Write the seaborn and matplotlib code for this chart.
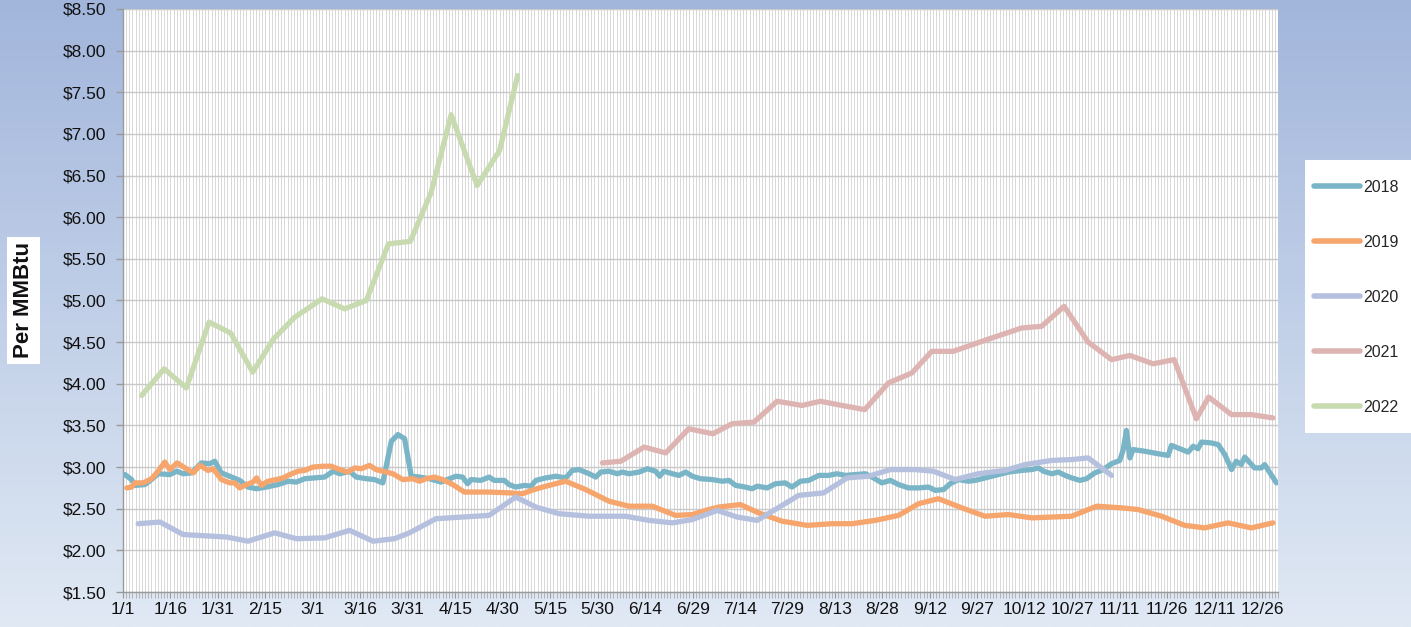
import numpy as np
import pandas as pd
import matplotlib
matplotlib.use("Agg")
import matplotlib.pyplot as plt
from matplotlib.lines import Line2D
from matplotlib.patches import Rectangle
from matplotlib.ticker import MultipleLocator, FixedLocator, FuncFormatter
import seaborn as sns

# ---------------- data (day of year index, $/MMBtu) ----------------
years = ["2018", "2019", "2020", "2021", "2022"]
colors = ["#79B5C7", "#F6A56C", "#B4C0DE", "#DDB4B2", "#C8DAB0"]

days_2018 = [0.6, 2.7, 3.8, 6.9, 9.0, 11.1, 14.8, 17.0, 19.0, 21.7, 24.8, 27.4, 29.0, 31.1, 34.3,
             36.9, 39.5, 42.2, 45.3, 49.0, 52.2, 54.8, 57.4, 60.6, 63.7, 66.4, 68.5, 71.6, 73.7,
             76.9, 79.5, 82.1, 84.8, 86.9, 89.0, 91.1, 93.7, 96.8, 100.5, 105.2, 107.3, 108.9,
             110.0, 113.1, 115.7, 117.3, 120.5, 122.0, 124.1, 126.8, 128.9, 130.5, 133.6, 136.8,
             139.9, 142.0, 144.1, 147.3, 149.4, 151.0, 153.6, 156.2, 157.8, 159.9, 163.1, 165.7,
             168.3, 169.6, 170.9, 173.6, 175.7, 177.8, 179.9, 182.5, 186.2, 189.4, 191.5, 193.6,
             196.7, 198.8, 200.4, 203.6, 206.2, 209.3, 211.4, 214.1, 216.7, 219.9, 223.0, 225.6,
             228.3, 231.4, 234.6, 237.2, 239.8, 242.5, 245.1, 248.2, 251.4, 254.6, 256.7, 259.3,
             261.4, 264.0, 267.2, 269.3, 272.4, 275.6, 279.8, 284.0, 287.2, 289.3, 290.9, 293.5,
             295.6, 297.7, 299.8, 302.4, 304.5, 307.1, 309.8, 312.4, 315.0, 316.1, 317.1, 318.2,
             319.2, 322.9, 327.1, 330.3, 331.3, 334.0, 336.6, 338.2, 339.7, 340.8, 343.9, 346.1,
             348.2, 350.3, 351.8, 353.4, 354.5, 357.6, 359.7, 360.8, 364.5]
price_2018 = [2.91, 2.85, 2.78, 2.79, 2.85, 2.92, 2.91, 2.95, 2.92, 2.93, 3.05, 3.04, 3.07, 2.93, 2.88,
              2.84, 2.76, 2.74, 2.76, 2.79, 2.83, 2.82, 2.86, 2.87, 2.88, 2.95, 2.92, 2.95, 2.88,
              2.86, 2.85, 2.81, 3.31, 3.39, 3.34, 2.89, 2.88, 2.86, 2.82, 2.89, 2.88, 2.80,
              2.85, 2.84, 2.88, 2.84, 2.84, 2.79, 2.76, 2.78, 2.77, 2.84, 2.87, 2.89,
              2.87, 2.96, 2.97, 2.92, 2.88, 2.94, 2.95, 2.92, 2.94, 2.92, 2.94, 2.98,
              2.95, 2.89, 2.95, 2.92, 2.90, 2.94, 2.89, 2.86, 2.85, 2.83, 2.84, 2.78,
              2.76, 2.74, 2.77, 2.75, 2.80, 2.81, 2.76, 2.83, 2.84, 2.90, 2.90, 2.92,
              2.90, 2.91, 2.92, 2.87, 2.81, 2.84, 2.79, 2.75, 2.75, 2.76, 2.72, 2.73,
              2.80, 2.85, 2.83, 2.84, 2.87, 2.90, 2.94, 2.96, 2.97, 2.99, 2.95, 2.92,
              2.94, 2.90, 2.87, 2.84, 2.86, 2.93, 2.97, 3.04, 3.08, 3.21, 3.44, 3.11,
              3.21, 3.19, 3.16, 3.14, 3.26, 3.22, 3.18, 3.25, 3.22, 3.30, 3.29, 3.27,
              3.15, 2.97, 3.07, 3.03, 3.12, 2.99, 2.99, 3.03, 2.81]

days_2019 = [1.2, 2.7, 3.8, 6.4, 9.0, 11.1, 13.2, 14.8, 17.1, 19.6, 22.2, 24.3, 26.9, 28.5, 31.1,
             33.8, 35.3, 36.9, 39.0, 41.1, 42.2, 43.7, 45.8, 48.5, 50.6, 52.7, 55.3, 57.4, 60.0,
             63.2, 65.8, 68.5, 71.1, 73.2, 75.3, 77.9, 80.0, 82.1, 85.3, 88.4, 91.6, 93.7, 95.8,
             98.4, 101.0, 104.2, 107.9, 115.7, 122.0, 126.3, 129.9, 133.6, 139.9, 146.2, 153.6,
             159.9, 167.3, 174.6, 179.9, 185.1, 188.3, 195.1, 200.9, 208.3, 216.2, 224.1, 230.4,
             237.7, 245.1, 251.4, 257.7, 265.1, 272.4, 279.8, 287.2, 299.8, 307.7, 315.6, 320.8,
             328.2, 335.5, 341.8, 349.2, 356.6, 363.4]
price_2019 = [2.75, 2.76, 2.81, 2.81, 2.86, 2.95, 3.06, 2.97, 3.05, 2.99, 2.93, 3.02, 2.96, 2.98, 2.85,
              2.81, 2.81, 2.75, 2.79, 2.82, 2.87, 2.78, 2.83, 2.85, 2.87, 2.91, 2.95, 2.96, 3.00,
              3.01, 3.01, 2.97, 2.94, 2.99, 2.98, 3.02, 2.97, 2.95, 2.92, 2.85, 2.86, 2.83, 2.86,
              2.88, 2.85, 2.79, 2.70, 2.70, 2.69, 2.68, 2.73, 2.77, 2.83, 2.73, 2.59,
              2.53, 2.53, 2.42, 2.43, 2.49, 2.52, 2.55, 2.45, 2.35, 2.30, 2.32, 2.32,
              2.36, 2.42, 2.56, 2.62, 2.51, 2.41, 2.43, 2.39, 2.41, 2.53, 2.51, 2.49,
              2.41, 2.30, 2.27, 2.33, 2.27, 2.33]

days_2020 = [4.8, 11.7, 19.0, 32.7, 39.5, 47.9, 54.8, 63.7, 71.6, 79.0, 85.8, 90.5, 98.9, 115.7,
             124.1, 130.5, 137.8, 147.3, 158.8, 166.2, 173.6, 179.9, 187.8, 194.1, 200.4, 208.3,
             213.5, 221.4, 228.8, 235.6, 242.5, 250.3, 256.1, 263.0, 270.3, 278.8, 285.1, 293.5,
             299.8, 305.0, 312.4]
price_2020 = [2.32, 2.34, 2.19, 2.16, 2.11, 2.21, 2.14, 2.15, 2.24, 2.11, 2.14, 2.21, 2.38, 2.42,
              2.64, 2.52, 2.44, 2.41, 2.41, 2.36, 2.33, 2.37, 2.48, 2.40, 2.36, 2.54,
              2.66, 2.69, 2.87, 2.89, 2.97, 2.97, 2.95, 2.85, 2.92, 2.96, 3.03, 3.08,
              3.09, 3.11, 2.90]

days_2021 = [151.5, 157.3, 164.7, 171.5, 178.8, 186.4, 192.5, 199.4, 206.7, 214.6, 220.4, 227.2,
             234.4, 241.9, 249.3, 255.6, 262.4, 273.0, 284.0, 290.3, 297.4, 305.0, 312.4, 318.2,
             325.5, 332.2, 339.2, 343.1, 350.3, 356.6, 363.4]
price_2021 = [3.05, 3.07, 3.24, 3.17, 3.46, 3.40, 3.52, 3.54, 3.79, 3.74, 3.79, 3.74,
              3.69, 4.01, 4.13, 4.39, 4.39, 4.53, 4.67, 4.69, 4.93, 4.50, 4.29, 4.34,
              4.24, 4.29, 3.58, 3.84, 3.63, 3.63, 3.59]

days_2022 = [5.9, 13.0, 20.0, 27.2, 34.0, 41.0, 47.6, 54.3, 62.9, 70.0, 76.9, 83.9, 90.8, 97.4,
             103.7, 111.9, 119.0, 124.7]
price_2022 = [3.86, 4.18, 3.95, 4.74, 4.61, 4.14, 4.54, 4.80, 5.02, 4.90, 5.00, 5.68, 5.71, 6.30,
              7.23, 6.38, 6.80, 7.70]

tick_days = list(range(0, 361, 15))
tick_labels = ["1/1", "1/16", "1/31", "2/15", "3/1", "3/16", "3/31", "4/15", "4/30", "5/15",
               "5/30", "6/14", "6/29", "7/14", "7/29", "8/13", "8/28", "9/12", "9/27", "10/12",
               "10/27", "11/11", "11/26", "12/11", "12/26"]

series_days = [days_2018, days_2019, days_2020, days_2021, days_2022]
series_price = [price_2018, price_2019, price_2020, price_2021, price_2022]

frames = []
for y, d, p in zip(years, series_days, series_price):
    frames.append(pd.DataFrame({"day": d, "price": p, "year": y}))
df = pd.concat(frames, ignore_index=True)

# ---------------- style ----------------
sns.set_style("white")
plt.rcParams["font.family"] = ["Liberation Sans", "DejaVu Sans"]

W, H = 1411, 627
fig = plt.figure(figsize=(W / 100, H / 100), dpi=100)

# background gradient
bg = fig.add_axes([0, 0, 1, 1], zorder=-5)
top = np.array([0xA2, 0xB6, 0xDC]) / 255
bot = np.array([0xE0, 0xE9, 0xF4]) / 255
t = np.linspace(0, 1, 256)[:, None]
grad = (top[None, :] * (1 - t) + bot[None, :] * t)[:, None, :]
bg.imshow(grad, aspect="auto", extent=[0, 1, 0, 1])
bg.set_axis_off()

L, R, T, B = 123, 1278, 9, 592
ax = fig.add_axes([L / W, 1 - B / H, (R - L) / W, (B - T) / H], zorder=1)
ax.set_facecolor("white")

for y, c in zip(years, colors):
    sns.lineplot(data=df[df["year"] == y], x="day", y="price", color=c, lw=3.8,
                 sort=False, estimator=None, ax=ax, legend=False, zorder=3,
                 solid_capstyle="round", solid_joinstyle="round")

ax.set_xlim(0, 365)
ax.set_ylim(1.5, 8.5)
ax.yaxis.set_major_locator(MultipleLocator(0.5))
ax.yaxis.set_major_formatter(FuncFormatter(lambda v, p: f"${v:.2f}"))
ax.xaxis.set_major_locator(FixedLocator(tick_days))
ax.set_xticklabels(tick_labels)
ax.xaxis.set_minor_locator(MultipleLocator(1))

ax.grid(which="minor", axis="x", color="#D2D2D2", lw=0.6, zorder=0)
ax.grid(which="major", axis="x", color="#D2D2D2", lw=0.6, zorder=0)
ax.grid(which="major", axis="y", color="#C9C9C9", lw=1.0, zorder=0)
ax.set_axisbelow(True)

for s in ["top", "right"]:
    ax.spines[s].set_visible(False)
for s in ["left", "bottom"]:
    ax.spines[s].set_color("#9A9A9A")
    ax.spines[s].set_linewidth(1.0)

ax.tick_params(axis="y", which="major", length=5, width=1, color="#9A9A9A",
               labelsize=12.5, pad=7, labelcolor="#111111", left=True)
ax.tick_params(axis="x", which="major", length=4, width=0.8, color="#9A9A9A",
               labelsize=12.5, pad=3, labelcolor="#111111", bottom=True)
ax.tick_params(axis="x", which="minor", length=4, width=0.6, color="#AAAAAA", bottom=True)

ax.set_xlabel("")
ax.set_ylabel("Per MMBtu", fontsize=16, fontweight="bold", color="#111111",
              bbox=dict(boxstyle="square,pad=0.25", facecolor="white", edgecolor="none"))
ax.yaxis.set_label_coords((34 - L) / (R - L), 0.5)

# legend panel
fig.patches.append(Rectangle((1305 / W, 1 - 433 / H), (W - 1305) / W, (433 - 160) / H,
                             transform=fig.transFigure, facecolor="white",
                             edgecolor="none", zorder=2))
handles = [Line2D([0], [0], color=c, lw=4, solid_capstyle="round") for c in colors]
leg = fig.legend(handles, years, loc="upper left", bbox_to_anchor=(1314 / W, 1 - 180 / H),
                 frameon=False, fontsize=11.5, handlelength=2.9, handletextpad=0.2,
                 labelspacing=2.5, borderpad=0, borderaxespad=0)
leg.set_zorder(5)

fig.savefig("out.png", dpi=100)
